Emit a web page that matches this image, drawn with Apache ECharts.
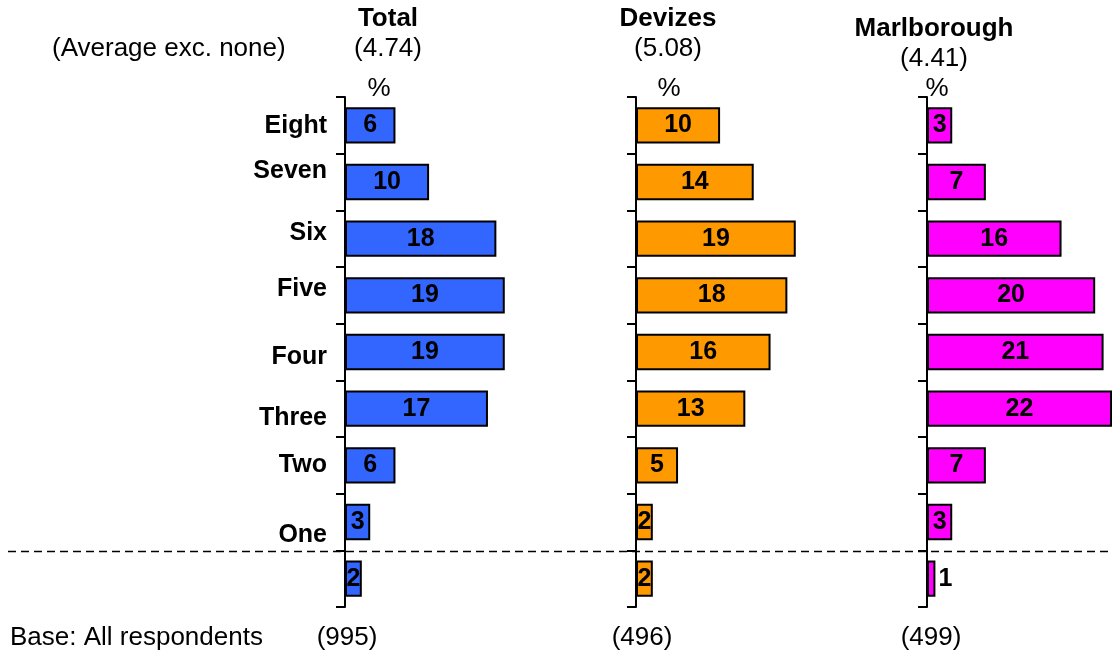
<!DOCTYPE html>
<html>
<head>
<meta charset="utf-8">
<script src="https://cdn.jsdelivr.net/npm/echarts@6/dist/echarts.min.js"></script>
<style>
html,body{margin:0;padding:0;background:#fff;}
#chart{width:1113px;height:656px;}
</style>
</head>
<body>
<div id="chart"></div>
<script>
const categories = ['Eight','Seven','Six','Five','Four','Three','Two','One',''];
const groupNames = ['Total','Devizes','Marlborough'];
const averages = ['(4.74)','(5.08)','(4.41)'];
const bases = ['(995)','(496)','(499)'];
const totalValues = [6,10,18,19,19,17,6,3,2];
const devizesValues = [10,14,19,18,16,13,5,2,2];
const marlboroughValues = [3,7,16,20,21,22,7,3,1];
const averageLabel = '(Average exc. none)';
const baseLabel = 'Base: All respondents';
const unitLabel = '%';

const seriesValues = [totalValues, devizesValues, marlboroughValues];
const colors = ['#3366FF','#FF9900','#FF00FF'];
const gridLefts = [345, 636, 927];
const FONT = 'Liberation Sans, Arial, sans-serif';

// per-category vertical nudges of axis labels (style only)
const labelNudge = [1, -11, -6, -6, 5, 9, 0, 13, 0];
const rich = {};
labelNudge.forEach((d, k) => {
  rich['n' + k] = {
    fontFamily: FONT, fontWeight: 'bold', fontSize: 25, color: '#000',
    padding: d >= 0 ? [2 * d, 0, 0, 0] : [0, 0, -2 * d, 0]
  };
});

const grids = gridLefts.map(l => ({left: l, top: 97, width: 185, height: 510, containLabel: false}));
const xAxes = gridLefts.map((l, i) => ({
  type: 'value', gridIndex: i, min: 0, max: 22, show: false
}));
const yAxes = gridLefts.map((l, i) => ({
  type: 'category', gridIndex: i, inverse: true,
  data: categories,
  axisLine: {show: true, lineStyle: {color: '#000', width: 2}},
  axisTick: {show: true, length: 9, lineStyle: {color: '#000', width: 2}},
  axisLabel: {
    show: i === 0, margin: 18, color: '#000', fontWeight: 'bold', fontSize: 25, fontFamily: FONT,
    formatter: (value, index) => value ? '{n' + index + '|' + value + '}' : '',
    rich: rich
  },
  splitLine: {show: false}
}));
const series = seriesValues.map((vals, i) => ({
  type: 'bar', xAxisIndex: i, yAxisIndex: i,
  barCategoryGap: '36%',
  itemStyle: {color: colors[i], borderColor: '#000', borderWidth: 2},
  label: {show: true, position: 'inside', color: '#000', fontWeight: 'bold', fontSize: 25, fontFamily: FONT},
  data: vals.map(v => v < 2 ? {value: v, label: {position: 'right', distance: 3}} : v),
  silent: true, animation: false
}));

const headerX = [388, 668, 934];
const headerY = [19, 19, 29];
const pctX = [379, 669, 937];
const baseX = [347, 642, 931];
const graphic = [];
groupNames.forEach((g, i) => {
  graphic.push({type: 'text', x: headerX[i], y: headerY[i], style: {text: g, fontFamily: FONT, fontWeight: 'bold', fontSize: 26, fill: '#000', textAlign: 'center', textVerticalAlign: 'middle'}});
  graphic.push({type: 'text', x: headerX[i], y: headerY[i] + 30, style: {text: averages[i], fontFamily: FONT, fontSize: 26, fill: '#000', textAlign: 'center', textVerticalAlign: 'middle'}});
  graphic.push({type: 'text', x: pctX[i], y: 89, style: {text: unitLabel, fontFamily: FONT, fontSize: 26, fill: '#000', textAlign: 'center', textVerticalAlign: 'middle'}});
  graphic.push({type: 'text', x: baseX[i], y: 638, style: {text: bases[i], fontFamily: FONT, fontSize: 26, fill: '#000', textAlign: 'center', textVerticalAlign: 'middle'}});
});
graphic.push({type: 'text', x: 52, y: 49, style: {text: averageLabel, fontFamily: FONT, fontSize: 26, fill: '#000', textAlign: 'left', textVerticalAlign: 'middle'}});
graphic.push({type: 'text', x: 10, y: 638, style: {text: baseLabel, fontFamily: FONT, fontSize: 26, fill: '#000', textAlign: 'left', textVerticalAlign: 'middle'}});
graphic.push({type: 'line', shape: {x1: 8, y1: 551.5, x2: 1113, y2: 551.5}, style: {stroke: '#000', lineWidth: 1.5, lineDash: [8, 5]}, z: 100});

const chart = echarts.init(document.getElementById('chart'), null, {renderer: 'canvas'});
chart.setOption({
  animation: false,
  backgroundColor: '#fff',
  grid: grids, xAxis: xAxes, yAxis: yAxes, series: series, graphic: graphic
});
</script>
</body>
</html>
